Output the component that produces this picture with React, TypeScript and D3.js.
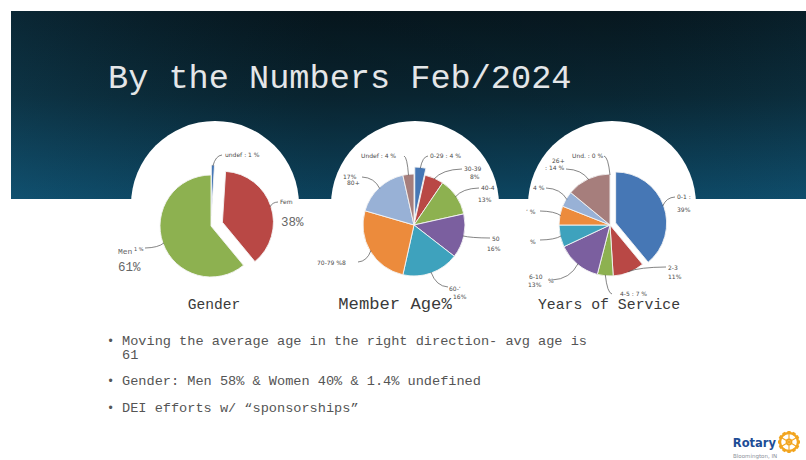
import React from 'react';
import * as d3 from 'd3';

// ---- data ----
const genderCats = ['undef', 'Fem', 'Men'];
const genderValues = [1, 38, 61];

const ageCats = ['0-29', '30-39', '40-49', '50', '60', '70-79', '80+', 'Undef'];
const ageValues = [3.5, 6, 12, 14, 18, 26, 17, 3.5];

const yearCats = ['Und.', '0-1', '2-3', '4-5', '6-10', '11-15', '16-20', '21-25', '26+'];
const yearValues = [0, 39, 10, 5, 14, 7, 6, 5, 14];

const bullets = [
  ['Moving the average age in the right direction- avg age is', '61'],
  ['Gender: Men 58% & Women 40% & 1.4% undefined'],
  ['DEI efforts w/ \u201csponsorships\u201d'],
];

const BLUE = '#4677b5', RED = '#b94845', GREEN = '#8db150', PURPLE = '#7b5f9f',
  TEAL = '#3ea2bd', ORANGE = '#ec8b3c', LBLUE = '#98b1d6', MAUVE = '#a67e7c';

type Lbl = { lines: [string, number, number, number?, string?][]; lead: [number, number] };

type PieSpec = {
  cx: number; cy: number; r: number;
  cats: string[]; values: number[]; colors: string[]; explode: number[];
  labels: (Lbl | null)[];
  title: string; titleX: number; titleSize: number;
};

const pies: PieSpec[] = [
  {
    cx: 211, cy: 226, r: 51, cats: genderCats, values: genderValues,
    colors: [BLUE, RED, GREEN], explode: [10, 12, 0],
    labels: [
      { lines: [['undef : 1 %', 14, -69]], lead: [11, -71] },
      { lines: [['Fem', 69, -22], ['38%', 70, 0, 12.5, 'mono']], lead: [67, -24] },
      { lines: [['Men', -93, 28, 8, 'mono'], ['1 %', -77, 25, 5], ['61%', -93, 45, 12.5, 'mono']], lead: [-66, 22] },
    ],
    title: 'Gender', titleX: 214, titleSize: 14.6,
  },
  {
    cx: 414, cy: 225, r: 51, cats: ageCats, values: ageValues,
    colors: [BLUE, RED, GREEN, PURPLE, TEAL, ORANGE, LBLUE, MAUVE], explode: [7, 0, 0, 0, 0, 0, 0, 0],
    labels: [
      { lines: [['0-29 : 4 %', 16, -67]], lead: [14, -69] },
      { lines: [['30-39', 50, -54], ['8%', 56, -46]], lead: [48, -56] },
      { lines: [['40-4', 67, -35], ['13%', 64, -23]], lead: [65, -37] },
      { lines: [['50', 78, 16], ['16%', 73, 26]], lead: [76, 13] },
      { lines: [['60-\u2019', 35, 66], ['16%', 39, 74]], lead: [34, 62] },
      { lines: [['70-79 %8', -97, 40]], lead: [-56, 37] },
      { lines: [['17%', -71, -46], ['80+', -67, -40]], lead: [-52, -48] },
      { lines: [['Undef : 4 %', -53, -67]], lead: [-10, -69] },
    ],
    title: 'Member Age%', titleX: 395, titleSize: 17.2,
  },
  {
    cx: 610, cy: 225, r: 51, cats: yearCats, values: yearValues,
    colors: ['#7f7f7f', BLUE, RED, GREEN, PURPLE, TEAL, ORANGE, LBLUE, MAUVE],
    explode: [0, 6, 0, 0, 0, 0, 0, 0, 0],
    labels: [
      { lines: [['Und. : 0 %', -38, -67]], lead: [-6, -69] },
      { lines: [['0-1 :', 67, -26], ['39%', 67, -13]], lead: [65, -28] },
      { lines: [['2-3', 58, 45], ['11%', 58, 54]], lead: [56, 42] },
      { lines: [['4-5 : 7 %', 10, 71]], lead: [2, 69] },
      { lines: [['6-10', -81, 54], ['13%', -82, 62], ['%', -62, 58]], lead: [-58, 55] },
      { lines: [['%', -80, 19]], lead: [-70, 15] },
      { lines: [['\u2019 %', -84, -11]], lead: [-70, -14] },
      { lines: [['4 %', -77, -35]], lead: [-64, -37] },
      { lines: [['26+', -58, -62], [': 14 %', -65, -55]], lead: [-44, -56] },
    ],
    title: 'Years of Service', titleX: 609, titleSize: 14.8,
  },
];

const domes = [
  { cx: 215, cy: 205, r: 84 },
  { cx: 415, cy: 205, r: 84 },
  { cx: 612, cy: 205, r: 84 },
];

const MONO = '"Courier New", "Liberation Mono", monospace';
const SANS = '"DejaVu Sans", Arial, sans-serif';

function Pie({ p }: { p: PieSpec }) {
  const arcs = d3.pie<number>().sort(null).value(d => d)(p.values);
  const arc = d3.arc<d3.PieArcDatum<number>>().innerRadius(0).outerRadius(p.r);
  return (
    <g transform={`translate(${p.cx},${p.cy})`}>
      {arcs.map((a, i) => {
        const mid = (a.startAngle + a.endAngle) / 2;
        const e = p.explode[i] || 0;
        const dx = Math.sin(mid) * e, dy = -Math.cos(mid) * e;
        return (
          <path key={i} d={arc(a) || ''} transform={`translate(${dx},${dy})`}
            fill={p.colors[i]} stroke="#f4f4f4" strokeWidth={0.9} strokeLinejoin="round" />
        );
      })}
      {arcs.map((a, i) => {
        const l = p.labels[i];
        if (!l) return null;
        const mid = (a.startAngle + a.endAngle) / 2;
        const e = p.explode[i] || 0;
        const rr = p.r + e - 1;
        const px = Math.sin(mid) * rr, py = -Math.cos(mid) * rr;
        const [lx, ly] = l.lead;
        const qx = lx + (px - lx) * 0.7, qy = ly + (py - ly) * 0.05;
        return (
          <g key={'l' + i}>
            <path d={`M${lx},${ly}Q${qx},${qy} ${px},${py}`} fill="none" stroke="#505050" strokeWidth={0.7} />
            {l.lines.map(([t, x, y, size, fam], j) => (
              <text key={j} x={x} y={y} fontSize={size || 6}
                fontFamily={fam === 'mono' ? MONO : SANS}
                fill={fam === 'mono' ? '#666' : '#4a4a4a'}>{t}</text>
            ))}
          </g>
        );
      })}
    </g>
  );
}

export default function App() {
  const W = 806, H = 460;
  const gear = d3.range(12).map(i => (i * Math.PI * 2) / 12);
  return (
    <svg width={W} height={H} style={{ position: 'absolute', left: 0, top: 0, background: '#fff' }}>
      <defs>
        <linearGradient id="band" x1="0" y1="0" x2="0" y2="1">
          <stop offset="0%" stopColor="#071820" />
          <stop offset="45%" stopColor="#0a2835" />
          <stop offset="100%" stopColor="#0e4b69" />
        </linearGradient>
        <linearGradient id="bandH" x1="0" y1="0" x2="1" y2="0">
          <stop offset="0%" stopColor="#1a6a90" stopOpacity={0.18} />
          <stop offset="40%" stopColor="#000" stopOpacity={0.12} />
          <stop offset="75%" stopColor="#000" stopOpacity={0.05} />
          <stop offset="100%" stopColor="#1a6a90" stopOpacity={0.08} />
        </linearGradient>
      </defs>
      <rect x={0} y={0} width={W} height={H} fill="#fff" />
      <rect x={11} y={11} width={W - 11} height={188} fill="url(#band)" />
      <rect x={11} y={11} width={W - 11} height={188} fill="url(#bandH)" />
      <text x={108} y={88} fontFamily={MONO} fontSize={33.6} fill="#e4e6e8">By the Numbers Feb/2024</text>

      {domes.map((d, i) => (
        <circle key={i} cx={d.cx} cy={d.cy} r={d.r} fill="#fff" />
      ))}

      {pies.map((p, i) => (
        <g key={i}>
          <Pie p={p} />
          <text x={p.titleX} y={309} textAnchor="middle" fontFamily={MONO} fontSize={p.titleSize} fill="#3a3a3a">{p.title}</text>
        </g>
      ))}

      {bullets.map((b, i) => {
        const ys = [345, 385, 412];
        return (
          <g key={i} fontFamily={MONO} fontSize={13.6} fill="#555">
            <text x={107} y={ys[i]} fontSize={12}>{'\u2022'}</text>
            {b.map((t, j) => (
              <text key={j} x={122} y={ys[i] + j * 14}>{t}</text>
            ))}
          </g>
        );
      })}

      <g>
        <text x={776} y={447} textAnchor="end" fontFamily={SANS} fontWeight="bold" fontSize={11.5} fill="#1d4d96">Rotary</text>
        <text x={733} y={458} fontFamily={SANS} fontSize={5.5} fill="#8a8f99">Bloomington, IN</text>
        <g transform="translate(789,442)">
          {gear.map((a, i) => (
            <rect key={i} x={-1.6} y={-11} width={3.2} height={3} fill="#f2a51f" transform={`rotate(${(a * 180) / Math.PI})`} />
          ))}
          <circle r={9} fill="none" stroke="#f2a51f" strokeWidth={2.4} />
          <circle r={2.6} fill="none" stroke="#f2a51f" strokeWidth={1.6} />
          {gear.filter((_, i) => i % 2 === 0).map((a, i) => (
            <line key={i} x1={0} y1={0} x2={Math.sin(a) * 8} y2={-Math.cos(a) * 8} stroke="#f2a51f" strokeWidth={1.1} />
          ))}
        </g>
      </g>
    </svg>
  );
}
